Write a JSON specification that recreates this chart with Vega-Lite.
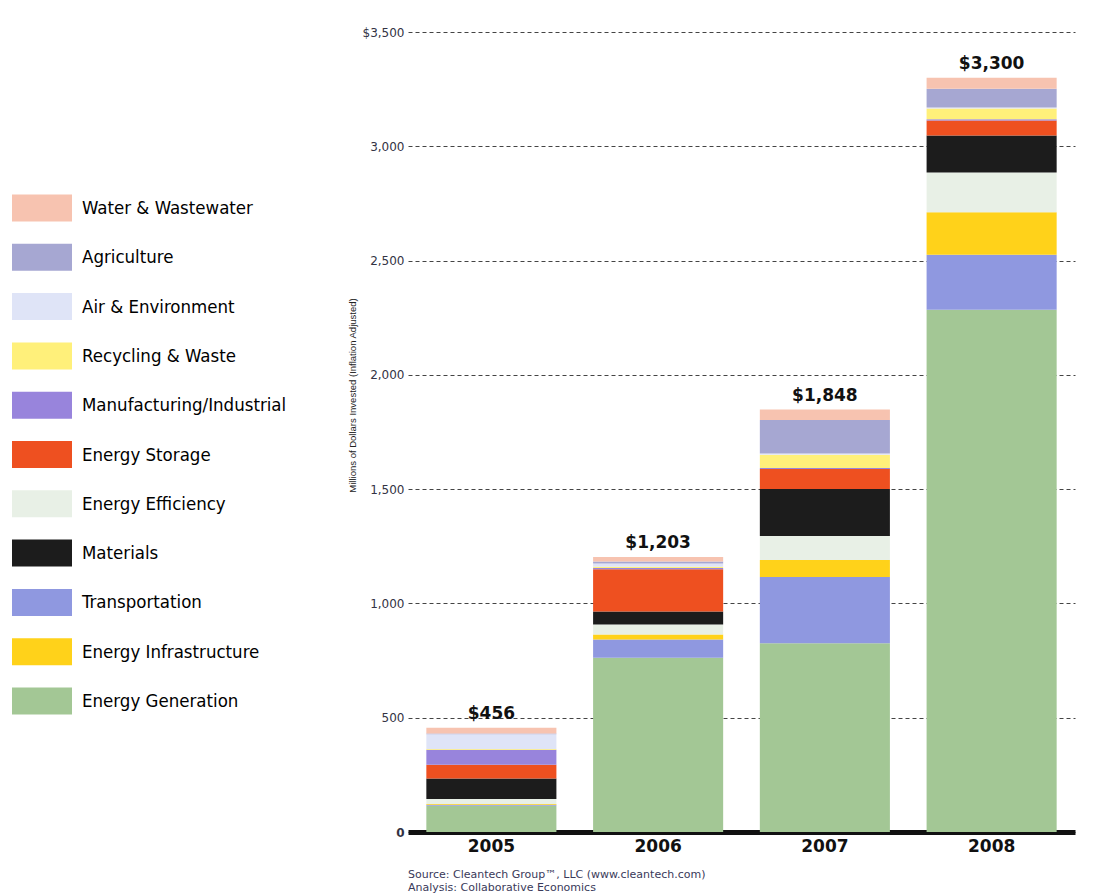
{
  "$schema": "https://vega.github.io/schema/vega-lite/v6.json",
  "width": 667,
  "height": 800,
  "autosize": {"type": "none"},
  "padding": {"left": 408, "top": 32, "right": 20, "bottom": 61},
  "background": "white",
  "config": {"view": {"stroke": null}},
  "title": {
    "text": ["Source: Cleantech Group™, LLC (www.cleantech.com)", "Analysis: Collaborative Economics"],
    "orient": "bottom",
    "anchor": "start",
    "frame": "group",
    "font": "DejaVu Sans",
    "fontSize": 11,
    "fontWeight": "normal",
    "lineHeight": 12.5,
    "color": "#3a3a5a",
    "offset": 15
  },
  "data": {
    "values": [
      {"year": "2005", "sector": "Energy Generation", "value": 115},
      {"year": "2005", "sector": "Transportation", "value": 4},
      {"year": "2005", "sector": "Energy Infrastructure", "value": 3},
      {"year": "2005", "sector": "Energy Efficiency", "value": 22},
      {"year": "2005", "sector": "Materials", "value": 90},
      {"year": "2005", "sector": "Energy Storage", "value": 60},
      {"year": "2005", "sector": "Manufacturing/Industrial", "value": 66},
      {"year": "2005", "sector": "Recycling & Waste", "value": 3},
      {"year": "2005", "sector": "Air & Environment", "value": 65},
      {"year": "2005", "sector": "Agriculture", "value": 3},
      {"year": "2005", "sector": "Water & Wastewater", "value": 25},
      {"year": "2006", "sector": "Energy Generation", "value": 762},
      {"year": "2006", "sector": "Transportation", "value": 80},
      {"year": "2006", "sector": "Energy Infrastructure", "value": 22},
      {"year": "2006", "sector": "Energy Efficiency", "value": 44},
      {"year": "2006", "sector": "Materials", "value": 57},
      {"year": "2006", "sector": "Energy Storage", "value": 184},
      {"year": "2006", "sector": "Manufacturing/Industrial", "value": 6},
      {"year": "2006", "sector": "Recycling & Waste", "value": 6},
      {"year": "2006", "sector": "Air & Environment", "value": 14},
      {"year": "2006", "sector": "Agriculture", "value": 8},
      {"year": "2006", "sector": "Water & Wastewater", "value": 20},
      {"year": "2007", "sector": "Energy Generation", "value": 826},
      {"year": "2007", "sector": "Transportation", "value": 290},
      {"year": "2007", "sector": "Energy Infrastructure", "value": 74},
      {"year": "2007", "sector": "Energy Efficiency", "value": 105},
      {"year": "2007", "sector": "Materials", "value": 206},
      {"year": "2007", "sector": "Energy Storage", "value": 87},
      {"year": "2007", "sector": "Manufacturing/Industrial", "value": 5},
      {"year": "2007", "sector": "Recycling & Waste", "value": 58},
      {"year": "2007", "sector": "Air & Environment", "value": 5},
      {"year": "2007", "sector": "Agriculture", "value": 146},
      {"year": "2007", "sector": "Water & Wastewater", "value": 46},
      {"year": "2008", "sector": "Energy Generation", "value": 2285},
      {"year": "2008", "sector": "Transportation", "value": 240},
      {"year": "2008", "sector": "Energy Infrastructure", "value": 186},
      {"year": "2008", "sector": "Energy Efficiency", "value": 174},
      {"year": "2008", "sector": "Materials", "value": 162},
      {"year": "2008", "sector": "Energy Storage", "value": 66},
      {"year": "2008", "sector": "Manufacturing/Industrial", "value": 5},
      {"year": "2008", "sector": "Recycling & Waste", "value": 47},
      {"year": "2008", "sector": "Air & Environment", "value": 5},
      {"year": "2008", "sector": "Agriculture", "value": 82},
      {"year": "2008", "sector": "Water & Wastewater", "value": 48}
    ]
  },
  "encoding": {
    "x": {
      "field": "year",
      "type": "nominal",
      "scale": {"paddingInner": 0.22, "paddingOuter": 0.11},
      "axis": {
        "title": null,
        "labelAngle": 0,
        "labelFont": "DejaVu Sans",
        "labelFontWeight": "bold",
        "labelFontSize": 17,
        "labelColor": "#111111",
        "labelPadding": 6,
        "ticks": false,
        "domain": true,
        "domainColor": "#111111",
        "domainWidth": 5
      }
    }
  },
  "layer": [
    {
      "mark": {"type": "bar", "stroke": null},
      "transform": [
        {"calculate": "indexof(['Energy Generation','Transportation','Energy Infrastructure','Energy Efficiency','Materials','Energy Storage','Manufacturing/Industrial','Recycling & Waste','Air & Environment','Agriculture','Water & Wastewater'], datum.sector)", "as": "stackRank"}
      ],
      "encoding": {
        "y": {
          "field": "value",
          "type": "quantitative",
          "aggregate": "sum",
          "scale": {"domain": [0, 3500], "nice": false},
          "axis": {
            "title": "Millions of Dollars Invested (Inflation Adjusted)",
            "titleFont": "Liberation Sans",
            "titleFontSize": 9.5,
            "titleFontWeight": "normal",
            "titleColor": "#222222",
            "titleX": -56,
            "titleY": 363,
            "titleAlign": "center",
            "titleBaseline": "middle",
            "values": [0, 500, 1000, 1500, 2000, 2500, 3000, 3500],
            "labelExpr": "datum.value == 3500 ? '$3,500' : format(datum.value, ',d')",
            "labelFont": "DejaVu Sans",
            "labelFontSize": 12,
            "labelFontWeight": {"condition": {"test": "datum.value == 0", "value": "bold"}, "value": "normal"},
            "labelColor": "#333344",
            "labelPadding": 4,
            "ticks": false,
            "domain": false,
            "grid": true,
            "gridColor": "#444444",
            "gridDash": [4, 3],
            "gridWidth": 1
          }
        },
        "color": {
          "field": "sector",
          "type": "nominal",
          "scale": {
            "domain": ["Water & Wastewater", "Agriculture", "Air & Environment", "Recycling & Waste", "Manufacturing/Industrial", "Energy Storage", "Energy Efficiency", "Materials", "Transportation", "Energy Infrastructure", "Energy Generation"],
            "range": ["#f7c3b0", "#a6a7d2", "#dfe4f7", "#fff07a", "#9884dc", "#ee5020", "#e8f0e6", "#1c1c1c", "#8f98e0", "#ffd21a", "#a3c795"]
          },
          "legend": {
            "title": null,
            "orient": "none",
            "legendX": -396,
            "legendY": 146,
            "symbolType": "M-1,-0.45H1V0.45H-1Z",
            "symbolSize": 3600,
            "symbolStrokeWidth": 0,
            "symbolOpacity": 1,
            "labelFont": "Liberation Sans Narrow, DejaVu Sans Condensed, sans-serif",
            "labelFontSize": 18.5,
            "labelColor": "#000000",
            "labelOffset": 10,
            "labelLimit": 300,
            "rowPadding": 5.3,
            "padding": 0
          }
        },
        "order": {"field": "stackRank", "type": "quantitative", "sort": "ascending"}
      }
    },
    {
      "mark": {"type": "text", "baseline": "bottom", "dy": -5, "font": "DejaVu Sans", "fontWeight": "bold", "fontSize": 17, "color": "#111111"},
      "encoding": {
        "y": {"field": "value", "type": "quantitative", "aggregate": "sum"},
        "text": {"field": "value", "type": "quantitative", "aggregate": "sum", "format": "$,d"}
      }
    }
  ]
}
